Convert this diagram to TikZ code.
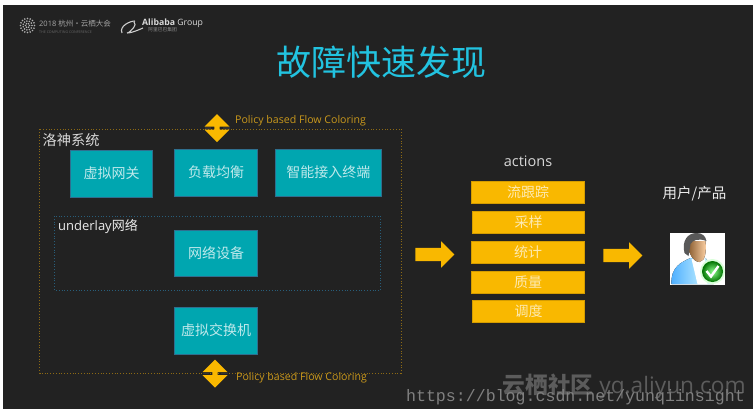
\documentclass[tikz,border=0pt]{standalone}
\usepackage{fontspec}
\setmainfont{Open Sans}
\newfontfamily\cjk{Noto Sans CJK SC}
\newfontfamily\urlfont{Liberation Mono}
\usetikzlibrary{shapes.arrows}
\usetikzlibrary{shadings}
\definecolor{slidebg}{HTML}{222222}
\definecolor{titlecyan}{HTML}{22C3E0}
\definecolor{tealbox}{HTML}{00A6B0}
\definecolor{tealedge}{HTML}{2F6F8F}
\definecolor{amberbox}{HTML}{F9B800}
\definecolor{policytext}{HTML}{C9981C}
\definecolor{soft}{HTML}{D8D8D8}
\tikzset{
  tealnode/.style={draw=tealedge,fill=tealbox,line width=0.6pt,inner sep=0pt,text=white!75!tealbox,font=\cjk\fontsize{14}{16}\selectfont},
  actionnode/.style={draw=amberbox!85!black,fill=amberbox,line width=0.5pt,inner sep=0pt,text=white!70!amberbox,font=\cjk\fontsize{14}{16}\selectfont},
  policylabel/.style={text=policytext,inner sep=0pt,anchor=west,font=\fontsize{10.6}{12}\selectfont},
  softlabel/.style={text=soft,inner sep=0pt},
  rightarrow/.style={single arrow,fill=amberbox,draw=none,inner sep=0pt,minimum height=39pt,minimum width=26pt,single arrow head extend=6.5pt,single arrow head indent=0pt},
  updown/.style={double arrow,rotate=90,fill=amberbox,draw=none,inner sep=0pt,minimum height=28pt,minimum width=25pt,double arrow head extend=6.5pt,double arrow head indent=0pt},
}
% box given by left,top,right,bottom in pixels
\newcommand\pixbox[7]{
  \node[#1,minimum width=#5-#3,minimum height=#6-#4] (#2) at ({(#3+#5)/2},{(#4+#6)/2}) {#7};
}
% dark bars in the notch of a double arrow
\newcommand\notchbars[1]{
  \draw[black!80,line width=1.1pt] (#1) ++(-12.5,0) -- ++(6.5,0) ++(12,0) -- ++(6.5,0);
}
\begin{document}
\begin{tikzpicture}[x=1pt,y=-1pt]
  \useasboundingbox (0,0) rectangle (756,416);
  \fill[white] (0,0) rectangle (756,416);
  \fill[slidebg] (3,5) rectangle (753,409);
  %
  % header
  \foreach \r/\n in {7/16,4.5/11,2/6} {
    \foreach \k in {1,...,\n} {
      \fill[white!70!black] ({27.5+\r*cos(\k*360/\n)},{25.5+\r*sin(\k*360/\n)}) circle (0.9pt);
    }
  }
  \node[text=white!65!black,inner sep=0pt,anchor=west,font=\fontsize{7.5}{9}\selectfont] (conf) at (39,24) {2018 {\cjk 杭州·云栖大会}};
  \node[text=white!40!black,inner sep=0pt,anchor=west,font=\fontsize{3.6}{5}\selectfont] (confsub) at (39,32) {THE COMPUTING CONFERENCE};
  \draw[white!80!black,line width=1.1pt] (122,33) .. controls (119,26) and (130,21) .. (135,21) (134,22) .. controls (138,24) and (130,33) .. (127,33) .. controls (131,33) and (136,31) .. (143,28);
  \node[text=white!85!black,inner sep=0pt,anchor=west,font=\bfseries\fontsize{8.7}{10}\selectfont] (ali) at (142,23) {Alibaba \mdseries Group};
  \node[text=white!55!black,inner sep=0pt,anchor=west,font=\cjk\fontsize{4.8}{6}\selectfont] (alisub) at (148,30) {阿里巴巴集团};
  \node[text=titlecyan,inner sep=0pt,font=\cjk\fontsize{35}{40}\selectfont] (title) at (381,62) {故障快速发现};
  %
  % frames
  \draw[policytext!70!black,dash pattern=on 0.8pt off 2pt,line width=0.7pt] (39.5,129) rectangle (401,373);
  \draw[tealedge!85!black,dash pattern=on 0.8pt off 2pt,line width=0.7pt] (54.5,216) rectangle (380.5,290);
  \node[softlabel,anchor=west,font=\cjk\fontsize{14.2}{16}\selectfont] (luoshen) at (42.5,140) {洛神系统};
  \node[softlabel,text=white!92!black,anchor=west,font=\fontsize{13}{15}\selectfont] (underlay) at (58,227) {underlay{\cjk 网络}};
  %
  % teal boxes
  \pixbox{tealnode}{gateway}{70.5}{150}{152.5}{197}{虚拟网关}
  \pixbox{tealnode}{balancer}{174.5}{149}{257.5}{196}{负载均衡}
  \pixbox{tealnode}{terminal}{275.5}{149}{381}{196}{智能接入终端}
  \pixbox{tealnode}{netdev}{174.5}{230}{257.5}{276}{网络设备}
  \pixbox{tealnode}{vswitch}{174.5}{307}{257.5}{354}{虚拟交换机}
  %
  % coloring arrows
  \node[updown] (topcolor) at (217,128) {\rule{0pt}{3pt}};
  \node[updown] (botcolor) at (215,373.5) {\rule{0pt}{3pt}};
  \notchbars{topcolor.center}
  \notchbars{botcolor.center}
  \node[policylabel] (toppolicy) at (235,121) {Policy based Flow Coloring};
  \node[policylabel] (botpolicy) at (236,378) {Policy based Flow Coloring};
  %
  % actions
  \node[softlabel,font=\fontsize{14.5}{17}\selectfont] (actions) at (528,161) {actions};
  \foreach \name/\top/\lft [count=\i] in {流跟踪/181/471.5,采样/211/472.5,统计/241/471.5,质量/271/471.5,调度/300/472.5} {
    \pixbox{actionnode}{act\i}{\lft}{\top}{584.5}{\top+22}{\name}
  }
  %
  % block arrows
  \node[rightarrow] (arrowin) at (431.5,254.5) {\rule{0pt}{13pt}};
  \node[rightarrow] (arrowout) at (619.5,255.5) {\rule{0pt}{13pt}};
  %
  % user
  \node[softlabel,text=white!92!black,font=\cjk\fontsize{14.5}{17}\selectfont] (users) at (694.5,194) {用户/产品};
  \node[fill=white,inner sep=0pt,minimum width=55pt,minimum height=52pt] (usericon) at (697.5,259) {};
  \begin{scope}[shift={(usericon.center)}]
    \fill[left color=blue!45!cyan!70,right color=cyan!12] (-26,25) .. controls (-27,8) and (-16,3) .. (-7,-1) -- (8,-1) .. controls (14,6) and (16,14) .. (16,25) -- cycle;
    \fill[white] (-6,0) -- (7,-2) -- (10,25) -- (0,25) -- cycle;
    \fill[left color=brown!70!black,right color=orange!35!white] (-10,-18) .. controls (-10,-6) and (-4,3) .. (2,3) .. controls (8,2) and (9,-8) .. (8,-18) -- cycle;
    \fill[black!65] (-13,-6) .. controls (-16,-18) and (-10,-26) .. (-1,-26) .. controls (5,-26) and (8,-23) .. (9,-18) .. controls (1,-21) and (-5,-19) .. (-7,-15) -- (-9,-3) -- cycle;
    \fill[white!85!green] (15,12.5) circle (12.5pt);
    \shade[inner color=green!45!white,outer color=green!45!black] (15,12.5) circle (10.5pt);
    \draw[white,line width=2.4pt] (9,12) -- (13.5,17.5) -- (21,7);
  \end{scope}
  %
  % watermarks
  \node[text=white!36!black,inner sep=0pt,anchor=east,font=\fontsize{22.7}{26}\selectfont] (yq) at (746,386) {{\cjk\bfseries 云栖社区} yq.aliyun.com};
  \node[text=white!50!black,inner sep=0pt,anchor=east,font=\urlfont\fontsize{16.6}{18}\selectfont] (url) at (745,397) {https://blog.csdn.net/yunqiinsight};
\end{tikzpicture}
\end{document}
